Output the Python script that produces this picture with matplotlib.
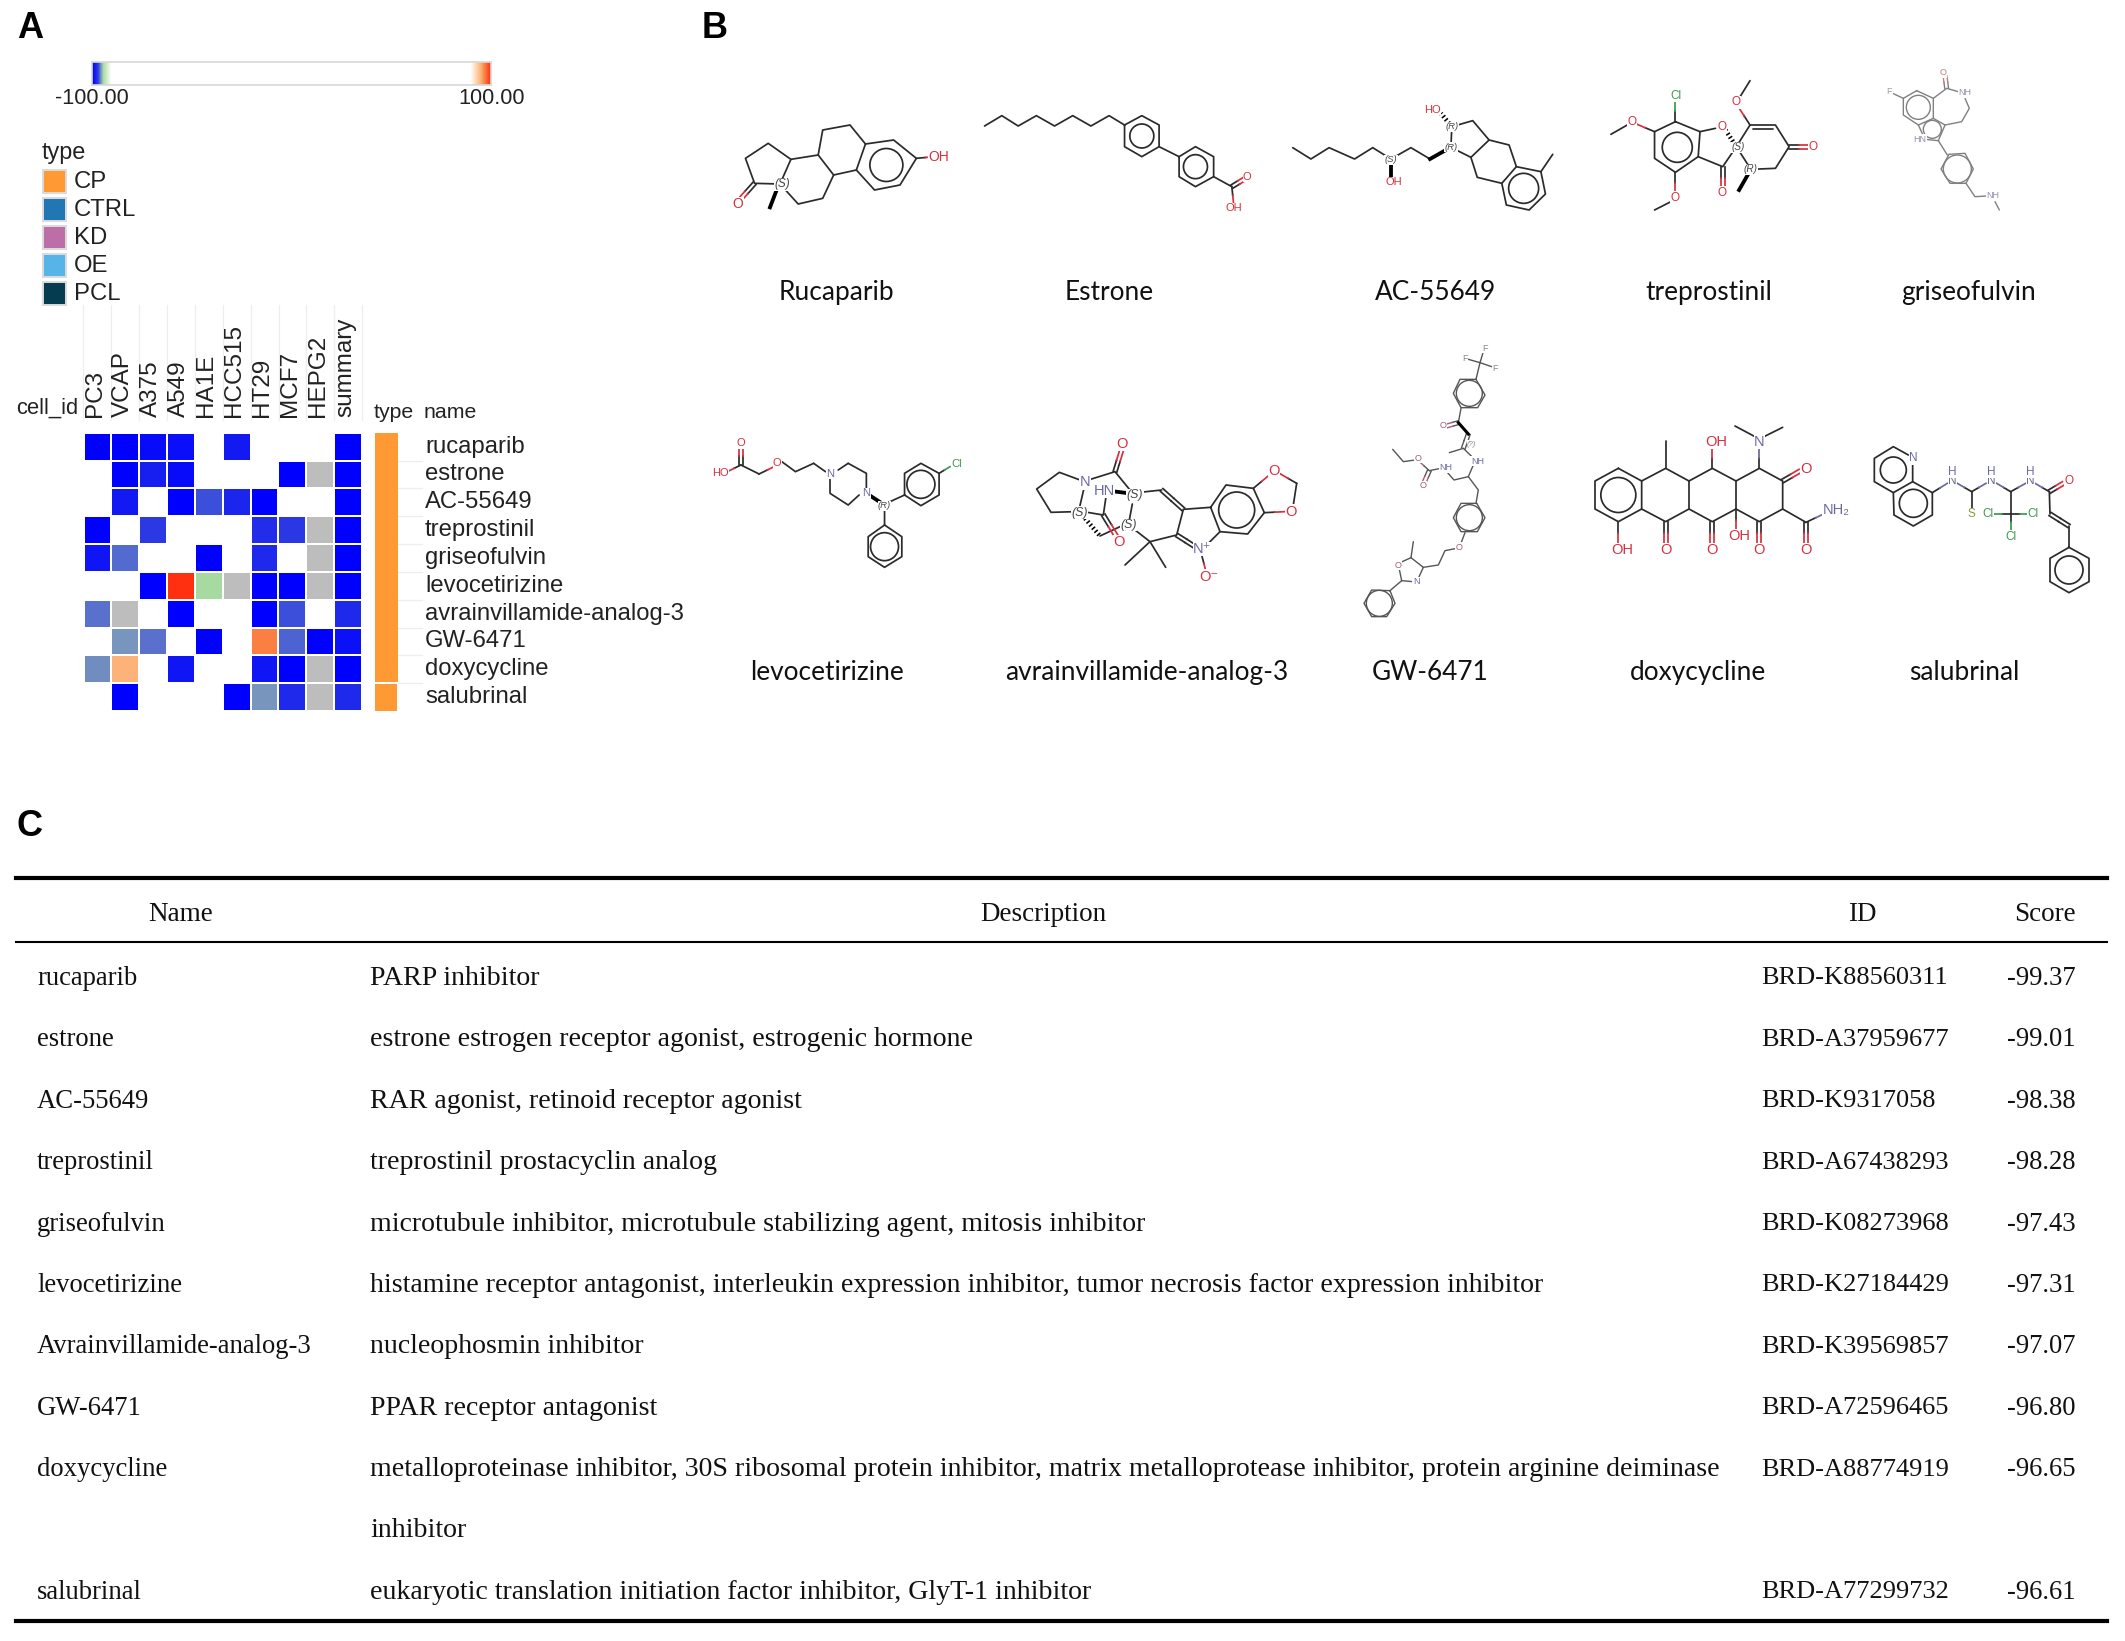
import numpy as np
import matplotlib
matplotlib.use("Agg")
from matplotlib import pyplot as plt
from matplotlib.colors import LinearSegmentedColormap
from matplotlib.patches import Rectangle, Ellipse

plt.rcParams["font.family"] = ["Liberation Sans", "DejaVu Sans"]

# panel A
cell_ids = ["PC3", "VCAP", "A375", "A549", "HA1E", "HCC515", "HT29", "MCF7", "HEPG2", "summary"]
heat_names = ["rucaparib", "estrone", "AC-55649", "treprostinil", "griseofulvin", "levocetirizine",
              "avrainvillamide-analog-3", "GW-6471", "doxycycline", "salubrinal"]
b = 0.0          # blank cell
g = np.nan       # grey cell
row_rucaparib = [-100, -100, -99.5, -99.3, b, -98.8, b, b, b, -100]
row_estrone = [b, -100, -98.5, -99.5, b, b, b, -100, g, -100]
row_ac = [b, -98.8, b, -100, -96.7, -98.2, -100, b, b, -100]
row_trep = [-100, b, -97.2, b, b, b, -97.8, -97.3, g, -100]
row_gris = [-99, -96.3, b, b, -100, b, -98, b, g, -100]
row_levo = [b, b, -100, 100, -94.5, g, -100, -100, g, -100]
row_avra = [-96.2, g, b, -100, b, b, -100, -96.7, b, -98]
row_gw = [b, -95.6, -96.2, b, -100, b, 97, -96.4, -100, -99.2]
row_doxy = [-95.8, 95, b, -99, b, b, -99, -100, g, -100]
row_salu = [b, -100, b, b, b, -100, -95.6, -98, g, -98]
legend_types = ["CP", "CTRL", "KD", "OE", "PCL"]
legend_colors = ["#ff9933", "#2077b4", "#bb6ea8", "#56b4e9", "#053c50"]

# panel B
mol_row1 = ["Rucaparib", "Estrone", "AC-55649", "treprostinil", "griseofulvin"]
mol_row2 = ["levocetirizine", "avrainvillamide-analog-3", "GW-6471", "doxycycline", "salubrinal"]

# panel C
table_names = ["rucaparib", "estrone", "AC-55649", "treprostinil", "griseofulvin", "levocetirizine",
               "Avrainvillamide-analog-3", "GW-6471", "doxycycline", "salubrinal"]
table_desc = ["PARP inhibitor",
              "estrone estrogen receptor agonist, estrogenic hormone",
              "RAR agonist, retinoid receptor agonist",
              "treprostinil prostacyclin analog",
              "microtubule inhibitor, microtubule stabilizing agent, mitosis inhibitor",
              "histamine receptor antagonist, interleukin expression inhibitor, tumor necrosis factor expression inhibitor",
              "nucleophosmin inhibitor",
              "PPAR receptor antagonist",
              "metalloproteinase inhibitor, 30S ribosomal protein inhibitor, matrix metalloprotease inhibitor, protein arginine deiminase\ninhibitor",
              "eukaryotic translation initiation factor inhibitor, GlyT-1 inhibitor"]
table_ids = ["BRD-K88560311", "BRD-A37959677", "BRD-K9317058", "BRD-A67438293", "BRD-K08273968",
             "BRD-K27184429", "BRD-K39569857", "BRD-A72596465", "BRD-A88774919", "BRD-A77299732"]
table_scores = [-99.37, -99.01, -98.38, -98.28, -97.43, -97.31, -97.07, -96.80, -96.65, -96.61]

W, H = 2125, 1641
fig = plt.figure(figsize=(W / 100, H / 100), dpi=100)
ax = fig.add_axes([0, 0, 1, 1])
ax.set_xlim(0, W)
ax.set_ylim(H, 0)
ax.axis("off")


def sub_axes(x0, y0, x1, y1):
    return fig.add_axes([x0 / W, 1 - y1 / H, (x1 - x0) / W, (y1 - y0) / H])


for letter, x, y in [("A", 17, 28), ("B", 702, 28), ("C", 17, 826)]:
    ax.text(x, y, letter, fontsize=26, fontweight="bold", va="center", ha="left", color="black")

# colour scale
stops = [(-100, "#0000ff"), (-97, "#2f3fe0"), (-96, "#6a85c4"), (-95.5, "#7c9abb"), (-94.5, "#a8dca0"),
         (-90.5, "#ffffff"), (90, "#ffffff"), (93, "#fdd3a8"), (95, "#fdb27a"), (97, "#fb8044"), (100, "#ff3010")]
cmap = LinearSegmentedColormap.from_list("score", [((v + 100) / 200, c) for v, c in stops], N=2048)
cmap.set_bad("#bdbdbd")

cb = sub_axes(92, 62, 491, 85)
cb.imshow(np.linspace(-100, 100, 800)[None, :], aspect="auto", cmap=cmap, vmin=-100, vmax=100)
cb.set_xticks([])
cb.set_yticks([])
for s in cb.spines.values():
    s.set_color("#d8d8d8")
    s.set_linewidth(1.2)
ax.text(92, 99, "-100.00", fontsize=15.7, ha="center", va="center", color="#222222")
ax.text(492, 99, "100.00", fontsize=15.7, ha="center", va="center", color="#222222")

ax.text(42, 152, "type", fontsize=16.8, ha="left", va="center", color="#222222")
for i, (t, c) in enumerate(zip(legend_types, legend_colors)):
    yy = 170 + i * 28
    ax.add_patch(Rectangle((43, yy), 23, 23, fc=c, ec="#dcdcdc", lw=1.4))
    ax.text(74, yy + 11.5, t, fontsize=17.2, ha="left", va="center", color="#222222")

# heatmap
hm_x0, hm_x1, hm_y0, hm_y1 = 83.5, 362, 432.7, 711
matrix = np.array([row_rucaparib, row_estrone, row_ac, row_trep, row_gris,
                   row_levo, row_avra, row_gw, row_doxy, row_salu])
hm = sub_axes(hm_x0, hm_y0, hm_x1, hm_y1)
hm.pcolormesh(np.ma.masked_invalid(matrix), cmap=cmap, vmin=-100, vmax=100, edgecolors="white", linewidth=1.3)
hm.set_ylim(len(heat_names), 0)
hm.axis("off")

cw = (hm_x1 - hm_x0) / len(cell_ids)
rh = (hm_y1 - hm_y0) / len(heat_names)
for i in range(len(cell_ids) + 1):
    ax.plot([hm_x0 + 27 + (i - 1) * cw + 0.9] * 2 if i else [hm_x0 + 27 - cw] * 2, [305, 420], color="#eeeeee", lw=0.9, zorder=0)
for i, c in enumerate(cell_ids):
    ax.text(hm_x0 + (i + 0.5) * cw - 2.5, 417, c, rotation=90, fontsize=17.5, ha="center", va="bottom", color="#222222")
ax.text(16, 408, "cell_id", fontsize=15.8, ha="left", va="center", color="#222222")
ax.text(374, 412, "type", fontsize=15.3, ha="left", va="center", color="#222222")
ax.text(424, 412, "name", fontsize=15.4, ha="left", va="center", color="#222222")
for i, n in enumerate(heat_names):
    yc = hm_y0 + (i + 0.5) * rh
    ax.text(425, yc, n, fontsize=17.2, ha="left", va="center", color="#222222")
    last = i == len(heat_names) - 1
    ax.add_patch(Rectangle((374.5, hm_y0 + i * rh + (1 if last else 0)), 22 if last else 23.5, rh - (1 if last or i == 8 else -0.5),
                           fc="#ff9933", ec="none"))
    if i > 0:
        ax.plot([398, 422], [hm_y0 + i * rh] * 2, color="#eeeeee", lw=0.9, zorder=0)

RED, BLU, GRN, OLV = "#d5303f", "#6a6a9e", "#3d9a50", "#8a9a3a"
DARK = "#2b2b2b"


def draw_mol(ox, oy, sx, sy, paths=(), dbl=(), het=(), wedge=(), hashed=(), rings=(), labels=(), col=DARK, lw=1.25, fs=10):
    def P(p):
        return ox + p[0] / sx, oy + p[1] / sy
    for pts in paths:
        xy = np.array([P(p) for p in pts])
        ax.plot(xy[:, 0], xy[:, 1], color=col, lw=lw, solid_capstyle="round", solid_joinstyle="round")
    for a, c2 in [(h[:2], h[2]) for h in het]:
        p, q = np.array(P(a[0])), np.array(P(a[1]))
        m = (p + q) / 2
        ax.plot([p[0], m[0]], [p[1], m[1]], color=col, lw=lw)
        ax.plot([m[0], q[0]], [m[1], q[1]], color=c2, lw=lw)
    for a, e, c2 in dbl:
        p, q = np.array(P(a)), np.array(P(e))
        n = np.array([-(q - p)[1], (q - p)[0]])
        n = n / np.hypot(*n) * 1.9
        m = (p + q) / 2
        for s in (-1, 1):
            ax.plot([p[0] + s * n[0], m[0] + s * n[0]], [p[1] + s * n[1], m[1] + s * n[1]], color=col, lw=lw)
            ax.plot([m[0] + s * n[0], q[0] + s * n[0]], [m[1] + s * n[1], q[1] + s * n[1]], color=c2, lw=lw)
    for a, e in wedge:
        p, q = P(a), P(e)
        ax.plot([p[0], q[0]], [p[1], q[1]], color="black", lw=lw * 2.2)
    for a, e in hashed:
        p, q = P(a), P(e)
        ax.plot([p[0], q[0]], [p[1], q[1]], color="black", lw=lw * 2.6, linestyle=(0, (0.35, 0.55)))
    for cx, cy, r in rings:
        c = P((cx, cy))
        ax.add_patch(Ellipse(c, 2 * r, 2 * r, fc="none", ec=col, lw=lw))
    for x, y, t, c in labels:
        x, y = P((x, y))
        stereo = t.startswith("(")
        ax.text(x, y, t, fontsize=fs * (0.85 if stereo else 1), color=c, ha="center", va="center", zorder=5,
                style="italic" if stereo else "normal", bbox=dict(fc="white", ec="none", pad=0.3))


# Rucaparib
draw_mol(700, 50, 1.1, 3,
         paths=[[(88, 402), (60, 400), (50, 325), (75, 280), (100, 328), (88, 402)],
                [(100, 328), (130, 315), (147, 375), (135, 445), (108, 462), (88, 402)],
                [(130, 315), (135, 240), (165, 225), (182, 282), (172, 360), (147, 375)],
                [(182, 282), (213, 270), (238, 325), (220, 405), (192, 420), (172, 360)]],
         rings=[(205, 345, 16.5)], het=[((238, 325), (258, 320), RED)], dbl=[((60, 400), (42, 455), RED)],
         wedge=[((85, 415), (77, 472))],
         labels=[(263, 320, "OH", RED), (42, 463, "O", RED), (90, 403, "(S)", "#444444")])
# Estrone
draw_mol(700, 50, 1.1, 3,
         paths=[[(313, 228), (332, 197), (350, 228), (370, 197), (390, 228), (410, 197), (430, 228), (450, 197), (467, 225)],
                [(467, 225), (486, 197), (505, 225), (505, 290), (486, 320), (467, 290), (467, 225)],
                [(505, 290), (527, 320), (545, 290), (565, 320), (565, 380), (545, 410), (527, 380), (527, 320)],
                [(565, 380), (585, 410)]],
         rings=[(486, 258, 12), (545, 350, 12)], dbl=[((585, 410), (600, 385), RED)], het=[((585, 410), (587, 462), RED)],
         labels=[(602, 380, "O", RED), (587, 474, "OH", RED)], fs=8)
# AC-55649
draw_mol(700, 50, 1.1, 3,
         paths=[[(652, 293), (672, 327), (692, 293), (720, 327), (740, 293), (760, 327), (782, 293), (803, 327)],
                [(826, 292), (827, 230), (850, 212), (868, 270), (848, 322), (826, 292)],
                [(868, 270), (890, 285), (898, 350), (882, 400), (855, 382), (848, 322)],
                [(898, 350), (925, 365), (930, 432), (912, 480), (887, 465), (882, 400)], [(925, 365), (938, 313)]],
         rings=[(906, 415, 15)], wedge=[((803, 327), (825, 293)), ((760, 345), (760, 380))],
         hashed=[((827, 230), (815, 190))],
         labels=[(763, 397, "OH", RED), (806, 180, "HO", RED), (760, 330, "(S)", "#444444"), (826, 292, "(R)", "#444444"),
                 (827, 230, "(R)", "#444444")], fs=8)
# treprostinil
draw_mol(700, 50, 1.1, 3,
         paths=[[(1073, 215), (1100, 245), (1098, 320), (1073, 367), (1050, 325), (1050, 245), (1073, 215)],
                [(1100, 245), (1117, 235)], [(1140, 290), (1125, 350), (1098, 320)],
                [(1140, 290), (1155, 225), (1183, 225), (1198, 290), (1183, 355), (1156, 358), (1140, 290)],
                [(1158, 238), (1180, 238)], [(1020, 225), (1002, 253)], [(1068, 455), (1050, 480)], [(1143, 145), (1155, 92)]],
         rings=[(1075, 292, 15)], het=[((1073, 215), (1073, 150), GRN), ((1050, 245), (1030, 222), RED),
                                       ((1073, 367), (1073, 432), RED), ((1155, 225), (1142, 170), RED)],
         dbl=[((1125, 350), (1125, 418), RED), ((1198, 290), (1220, 290), RED)],
         hashed=[((1128, 240), (1140, 290))], wedge=[((1156, 358), (1143, 420))],
         labels=[(1073, 138, "Cl", GRN), (1025, 215, "O", RED), (1073, 443, "O", RED), (1124, 230, "O", RED),
                 (1124, 428, "O", RED), (1224, 291, "O", RED), (1140, 157, "O", RED),
                 (1142, 292, "(S)", "#444444"), (1156, 358, "(R)", "#444444")], fs=8.5)
# griseofulvin
GRY = "#808080"
draw_mol(1870, 70, 3, 3, col=GRY, lw=1.0,
         paths=[[(140, 62), (190, 85), (190, 145), (145, 165), (100, 135), (100, 85), (140, 62)],
                [(100, 85), (68, 70)], [(190, 85), (230, 55), (265, 65)],
                [(285, 85), (298, 115), (275, 155), (225, 165)],
                [(190, 145), (225, 165), (205, 212), (165, 208), (145, 165)], [(205, 212), (232, 255)],
                [(237, 253), (285, 250), (310, 297), (288, 340), (240, 340), (213, 297), (237, 253)],
                [(288, 340), (315, 380), (350, 378)], [(375, 395), (388, 420)]],
         dbl=[((230, 55), (225, 18), "#c08080")], rings=[(145, 112, 12), (187, 178, 9), (262, 297, 14)],
         labels=[(220, 8, "O", "#c08080"), (58, 65, "F", "#a0a0a0"), (285, 68, "NH", "#9090a8"), (150, 208, "HN", "#9090a8"),
                 (368, 378, "NH", "#9090a8")], fs=6.5)
# levocetirizine
draw_mol(700, 330, 1.1, 3,
         paths=[[(45, 405), (65, 432)], [(90, 395), (105, 425), (125, 400)],
                [(163, 400), (183, 430), (183, 480)], [(175, 495), (163, 525), (143, 490), (143, 445)],
                [(125, 400), (138, 425)], [(152, 420), (163, 400)],
                [(205, 520), (225, 495), (225, 430), (243, 400), (263, 430), (263, 495), (243, 527), (225, 495)],
                [(203, 540), (203, 585), (222, 620), (222, 680), (203, 712), (185, 680), (185, 620), (203, 585)]],
         rings=[(243, 463, 14), (203, 650, 14)], wedge=[((186, 495), (203, 525))],
         het=[((45, 405), (30, 425), RED), ((65, 432), (83, 408), RED), ((263, 430), (275, 410), GRN)],
         dbl=[((45, 405), (45, 350), RED)],
         labels=[(22, 430, "HO", RED), (45, 340, "O", RED), (85, 400, "O", RED), (143, 432, "N", BLU), (183, 490, "N", BLU),
                 (282, 402, "Cl", GRN), (203, 527, "(R)", "#444444")], fs=8)
# avrainvillamide-analog-3
draw_mol(1020, 430, 3, 3,
         paths=[[(180, 150), (118, 127), (50, 177), (93, 247), (165, 245)], [(192, 175), (178, 235)],
                [(205, 150), (285, 125), (330, 180)], [(360, 187), (425, 180)], [(337, 222), (328, 270)],
                [(345, 300), (390, 335), (470, 315), (490, 238), (572, 232)], [(390, 335), (315, 405)], [(390, 335), (437, 412)],
                [(258, 200), (250, 255), (190, 245)],
                [(572, 232), (618, 165), (700, 175), (733, 248), (683, 312), (600, 305), (572, 232)], [(600, 305), (565, 340)],
                [(830, 160), (820, 225)], [(240, 318), (300, 290)]],
         rings=[(650, 240, 18)], wedge=[((288, 185), (328, 190))], hashed=[((195, 265), (240, 318))],
         het=[((700, 175), (748, 135), RED), ((830, 160), (778, 130), RED), ((733, 248), (795, 245), RED), ((545, 375), (558, 425), RED)],
         dbl=[((285, 125), (305, 60), RED), ((250, 255), (290, 320), RED), ((425, 180), (490, 238), DARK), ((470, 315), (525, 350), DARK)],
         labels=[(307, 42, "O", RED), (298, 337, "O", RED), (762, 122, "O", RED), (812, 245, "O", RED), (565, 440, "O⁻", RED),
                 (195, 157, "N", BLU), (253, 183, "HN", BLU), (547, 357, "N⁺", BLU), (345, 195, "(S)", "#444444"),
                 (178, 248, "(S)", "#444444"), (325, 285, "(S)", "#444444")], fs=10.5)
# GW-6471
draw_mol(1350, 340, 3, 3, col="#555555", lw=1.0,
         paths=[[(400, 35), (390, 68), (355, 58)], [(390, 68), (425, 80)], [(390, 68), (378, 118)],
                [(378, 118), (405, 165), (383, 203), (333, 203), (310, 160), (330, 118), (378, 118)], [(333, 205), (325, 248)],
                [(340, 325), (298, 338)], [(340, 325), (368, 352)], [(370, 375), (355, 410), (312, 420), (290, 395)],
                [(272, 385), (238, 392)], [(195, 360), (160, 365), (128, 328)], [(355, 410), (385, 450), (378, 490)],
                [(380, 490), (405, 533), (382, 575), (333, 575), (310, 533), (333, 490), (380, 490)], [(345, 578), (332, 612)],
                [(320, 625), (285, 632), (265, 675), (220, 682)], [(183, 653), (220, 682), (205, 715)], [(183, 653), (150, 668)],
                [(148, 688), (155, 722), (190, 725)], [(183, 653), (190, 605)], [(155, 722), (120, 752)],
                [(120, 752), (135, 790), (110, 830), (65, 830), (42, 790), (65, 750), (120, 752)]],
         rings=[(358, 160, 13), (358, 533, 13), (88, 790, 13)], wedge=[((325, 248), (355, 282))],
         dbl=[((325, 248), (290, 258), "#a06070"), ((355, 282), (340, 325), "#555555"), ((238, 392), (222, 428), "#a06070")],
         het=[((238, 392), (205, 362), "#a06070")],
         labels=[(405, 25, "F", "#888888"), (345, 55, "F", "#888888"), (435, 85, "F", "#888888"), (280, 257, "O", "#a06070"),
                 (382, 363, "NH", BLU), (288, 383, "NH", BLU), (218, 437, "O", "#a06070"), (203, 355, "O", "#a06070"),
                 (328, 622, "O", "#a06070"), (143, 675, "O", "#a06070"), (198, 725, "N", BLU), (365, 313, "(?)", "#888888")], fs=6.5)
# doxycycline
draw_mol(1580, 410, 3, 3,
         paths=[[(115, 175), (185, 213), (185, 297), (115, 335), (45, 297), (45, 213), (115, 175)],
                [(185, 213), (257, 175), (327, 213), (327, 297), (257, 335), (185, 297)],
                [(327, 213), (397, 175), (468, 213), (468, 297), (397, 335), (327, 297)],
                [(468, 213), (538, 175), (608, 213), (608, 297), (538, 335), (468, 297)],
                [(257, 175), (257, 92)], [(525, 80), (465, 48)], [(552, 80), (608, 52)], [(608, 297), (678, 337)]],
         rings=[(115, 255, 17.5)],
         het=[((397, 175), (397, 112), RED), ((538, 175), (538, 112), BLU), ((678, 337), (735, 310), BLU),
              ((115, 335), (115, 400), RED), ((468, 297), (468, 362), RED)],
         dbl=[((608, 213), (660, 183), RED), ((678, 337), (678, 400), RED), ((538, 335), (538, 400), RED),
              ((397, 335), (397, 400), RED), ((257, 335), (257, 400), RED)],
         labels=[(408, 95, "OH", RED), (538, 95, "N", BLU), (678, 176, "O", RED), (768, 300, "NH₂", BLU), (678, 421, "O", RED),
                 (538, 421, "O", RED), (397, 421, "O", RED), (257, 421, "O", RED), (127, 420, "OH", RED), (478, 378, "OH", RED)], fs=10.5)
# salubrinal
draw_mol(1860, 440, 3, 3,
         paths=[[(158, 70), (158, 125), (100, 158), (43, 125), (43, 55), (100, 20), (145, 45)],
                [(158, 125), (217, 158), (217, 225), (160, 258), (102, 225), (100, 158)],
                [(335, 155), (335, 205)], [(452, 155), (452, 222)],
                [(627, 258), (627, 322), (687, 355), (687, 425), (627, 458), (570, 425), (570, 355), (627, 322)],
                [(568, 155), (570, 222)]],
         rings=[(100, 90, 13), (160, 190, 14), (627, 390, 14)],
         het=[((217, 158), (262, 130), BLU), ((335, 155), (292, 130), BLU), ((335, 155), (378, 130), BLU),
              ((452, 155), (410, 130), BLU), ((452, 155), (497, 130), BLU), ((568, 155), (525, 130), BLU),
              ((452, 222), (400, 222), GRN), ((452, 222), (507, 222), GRN), ((452, 222), (452, 272), GRN)],
         dbl=[((568, 155), (610, 130), RED), ((570, 222), (627, 258), DARK)],
         labels=[(160, 55, "N", BLU), (277, 122, "N", BLU), (277, 95, "H", BLU), (394, 122, "N", BLU), (394, 95, "H", BLU),
                 (511, 122, "N", BLU), (511, 95, "H", BLU), (626, 122, "O", RED), (335, 223, "S", OLV), (385, 222, "Cl", GRN),
                 (520, 222, "Cl", GRN), (452, 290, "Cl", GRN)], fs=8.5)

x_row1 = [836, 1109, 1436, 1709, 1969]
x_row2 = [827, 1147, 1430, 1698, 1964]
for names, xs, y in [(mol_row1, x_row1, 292.5), (mol_row2, x_row2, 672.5)]:
    for n, x in zip(names, xs):
        ax.text(x, y, n, family="Lato", fontsize=18.9, ha="center", va="center", color="#111111")

# panel C
ax.plot([16, 2107], [878, 878], color="black", lw=3)
ax.plot([16, 2107], [942, 942], color="black", lw=1.5)
ax.plot([16, 2107], [1621, 1621], color="black", lw=3)
serif = dict(family="Liberation Serif", va="center", color="#111111")
for t, x in [("Name", 181), ("Description", 1043), ("ID", 1862), ("Score", 2045)]:
    ax.text(x, 914.5, t, ha="center", fontsize=19.5, **serif)
row = 0
for n, d, i, s in zip(table_names, table_desc, table_ids, table_scores):
    y = 978.5 + row * 61.38
    ax.text(37, y, n, ha="left", fontsize=19.2, **serif)
    ax.text(1761, y, i, ha="left", fontsize=19, **serif)
    ax.text(2076, y, f"{s:.2f}", ha="right", fontsize=19.2, **serif)
    for k, part in enumerate(d.split("\n")):
        ax.text(370, y + k * 61.38, part, ha="left", fontsize=20.1, **serif)
    row += 1 + d.count("\n")

fig.savefig("out.png", dpi=100, facecolor="white")
